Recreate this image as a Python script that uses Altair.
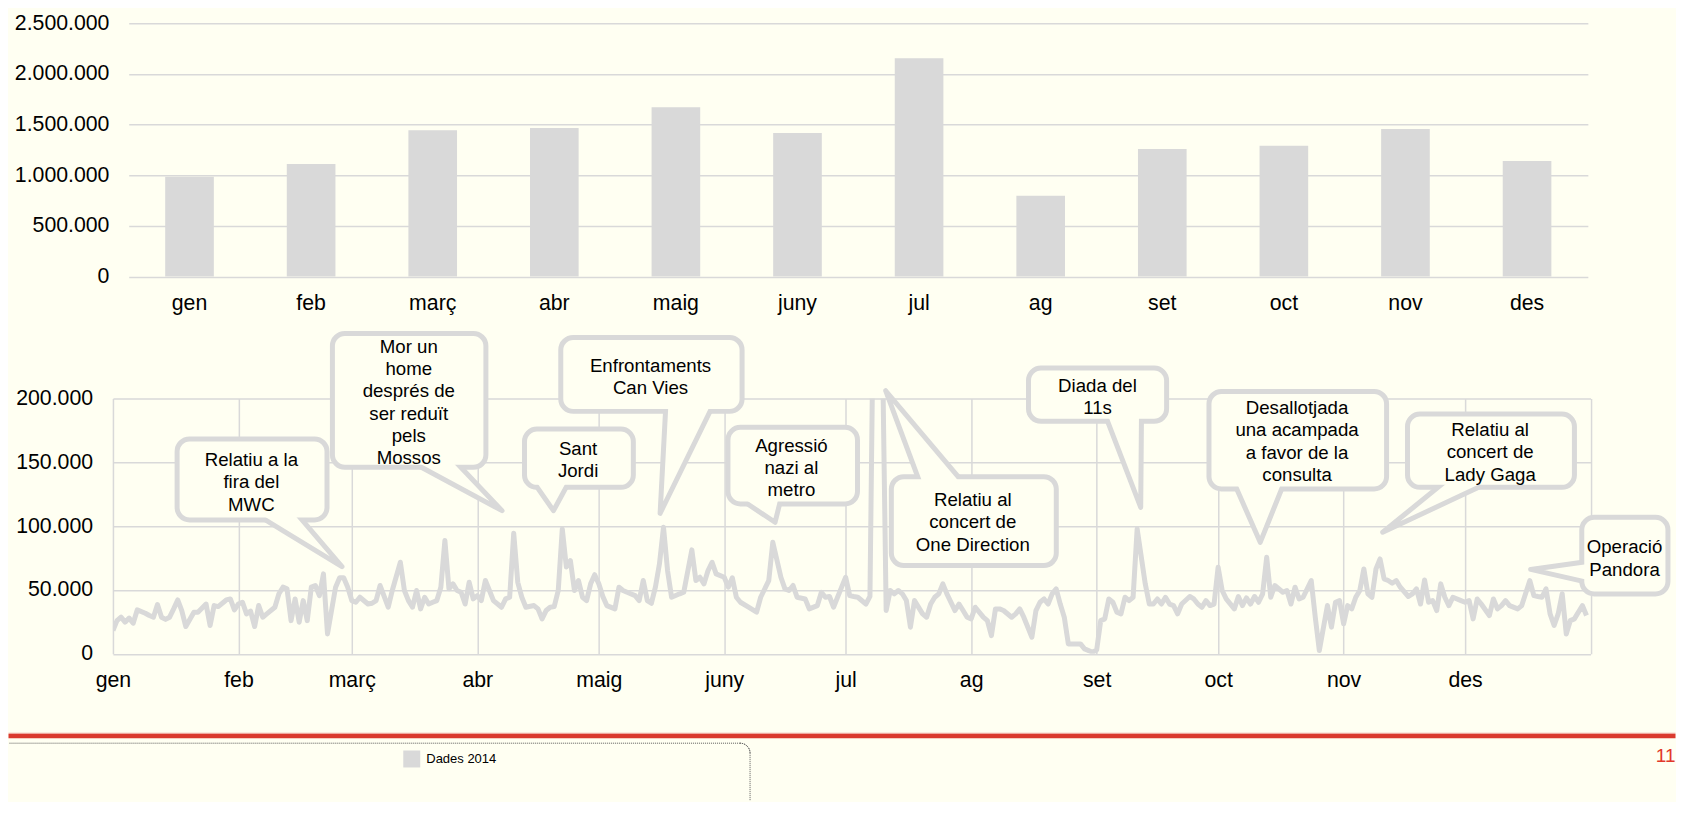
import math
import altair as alt
import pandas as pd

BG = "#FFFFF2"
GRIS = "#D9D9D9"
NEGRE = "#000000"
FONT = "Liberation Sans"

# ---------------- dades mensuals (gràfic de barres) ----------------
MESOS = ["gen", "feb", "març", "abr", "maig", "juny", "jul", "ag", "set", "oct", "nov", "des"]
VISITES_MES = [984000, 1110000, 1443000, 1465000, 1670000, 1416000,
               2154000, 797000, 1258000, 1290000, 1456000, 1140000]
MARQUES_Y_MES = [0, 500000, 1000000, 1500000, 2000000, 2500000]

# ---------------- dades diàries (gràfic de línia) ----------------
INICI_MES = [0, 31, 59, 90, 120, 151, 181, 212, 243, 273, 304, 334, 365]
MARQUES_Y_DIA = [0, 50000, 100000, 150000, 200000]
SERIE = "Dades 2014"

DIES = [
    0, 1, 2, 3, 4, 5, 6, 8, 9, 10, 11, 12, 13, 14, 15, 16, 17, 18, 20, 21, 23, 24, 25, 26, 28, 29, 30,
    31, 32, 33, 34, 35, 36, 37, 38, 40, 41, 42, 43, 44, 45, 46, 47, 48, 49, 50, 51, 52, 53, 55, 56, 57, 58,
    59, 60, 61, 63, 64, 65, 66, 68, 69, 71, 72, 73, 74, 75, 76, 77, 78, 79, 80, 81, 82, 83, 84, 85, 86, 87, 88, 89,
    90, 91, 92, 93, 94, 96, 97, 98, 99, 100, 101, 102, 104, 105, 106, 107, 108, 109, 110, 111, 112, 113, 114, 115, 116, 117, 118, 119,
    120, 121, 122, 124, 125, 126, 127, 129, 130, 131, 132, 133, 134, 135, 136, 137, 138, 140, 141, 143, 144, 145, 146, 147, 148, 149,
    151, 152, 153, 154, 155, 157, 159, 160, 162, 163, 165, 166, 167, 168, 169, 171, 172, 174, 175, 176, 177, 178, 180,
    181, 182, 183, 184, 186, 187, 188, 189, 190, 191, 192, 193, 194, 195, 196, 197, 198, 200, 201, 202, 203, 204, 205, 206, 208, 209, 210, 211,
    212, 213, 215, 216, 217, 218, 219, 220, 222, 223, 224, 225, 227, 228, 229, 230, 231, 232, 233, 234, 235, 236, 238, 239, 240, 242,
    243, 244, 245, 246, 247, 248, 249, 250, 251, 252, 253, 255, 256, 257, 258, 259, 260, 261, 262, 263, 264, 266, 267, 268, 269, 270, 271, 272,
    273, 274, 275, 277, 278, 279, 280, 281, 282, 283, 284, 285, 286, 287, 289, 290, 291, 292, 293, 294, 296, 297, 298, 300, 301, 302, 303,
    304, 305, 306, 307, 308, 309, 310, 311, 312, 313, 314, 315, 316, 317, 318, 320, 321, 322, 323, 324, 325, 326, 327, 328, 329, 330, 331, 333,
    334, 335, 336, 337, 338, 340, 341, 342, 343, 344, 345, 347, 348, 350, 351, 352, 353, 354, 355, 356, 357, 358, 359, 360, 361, 363, 364,
]
VISITES_DIA = [
    18300, 26000, 28700, 24800, 28000, 24000, 34400, 31800, 30000, 28700, 38600, 28700, 27000, 28700, 35200, 42200, 33900, 21400, 32600, 32600, 39000, 22200, 37800, 37000, 42200, 43000, 34400,
    39000, 40400, 31300, 33400, 21400, 37800, 28700, 31300, 36500, 47000, 52200, 50900, 26000, 43000, 24800, 41700, 26000, 52200, 53500, 45600, 62600, 15600, 52200, 59500, 59500, 52200,
    41700, 40400, 44300, 39000, 39600, 41700, 53500, 36500, 49600, 71700, 49600, 41700, 36500, 49600, 35200, 44300, 39000, 40400, 41700, 52200, 88700, 50900, 54800, 49600, 48200, 39000, 56000, 43000,
    45600, 41700, 57400, 49600, 41700, 36500, 43000, 44300, 94400, 56000, 44300, 36500, 37800, 35200, 27400, 33900, 36500, 37000, 49600, 97800, 68000, 73000, 49600, 57400, 44300, 41700, 54800, 62000,
    55000, 45000, 37800, 35200, 52200, 49600, 48200, 45600, 41700, 57400, 41700, 39600, 52200, 70400, 99100, 65200, 44300, 47000, 48200, 81400, 57400, 60000, 54800, 65200, 71700, 62600,
    60000, 52200, 59500, 44300, 40400, 36500, 32600, 44300, 57400, 87400, 60000, 50900, 49600, 53500, 44300, 43000, 35200, 37800, 48200, 44300, 44900, 36500, 52200,
    60000, 45600, 44900, 44300, 39000, 45000, 320000, 300000, 260000, 33900, 49600, 47000, 49600, 47000, 41700, 20900, 41700, 31300, 28700, 39000, 44300, 47000, 54800, 47000, 33900, 39000, 33900, 28700,
    27400, 36500, 28700, 26000, 14300, 35200, 35200, 33900, 28700, 31300, 35200, 28700, 13000, 33900, 40400, 43000, 39000, 47000, 50900, 39000, 28700, 7800, 7800, 7800, 3900, 1300,
    3000, 26000, 27400, 43000, 40400, 32600, 31300, 44300, 41700, 44300, 97800, 54800, 39000, 39000, 43000, 39000, 44300, 39000, 37800, 31300, 39000, 44900, 43000, 39000, 36500, 41700, 37800, 39000,
    67800, 49600, 43000, 35200, 44900, 37800, 43800, 39000, 44900, 40400, 47000, 75600, 44300, 53500, 48200, 49600, 39000, 52200, 43000, 44300, 57400, 28700, 2600, 37800, 20900, 40400, 41700,
    23500, 37800, 35200, 44300, 49600, 66500, 47000, 44300, 66500, 74300, 58700, 57400, 55300, 57400, 52200, 44900, 47000, 50900, 39000, 57900, 40400, 41700, 33900, 54800, 44300, 37800, 44300, 41700,
    40400, 41700, 27400, 43000, 39000, 30000, 43000, 35200, 37800, 41700, 37800, 35200, 37800, 57400, 45600, 44900, 44300, 50900, 31300, 22200, 31300, 47000, 15600, 26000, 27400, 37800, 30000,
]
assert len(DIES) == len(VISITES_DIA), (len(DIES), len(VISITES_DIA))

# ---------------- anotacions (en unitats de dia / visites) ----------------
TEXTOS = [
    "Relatiu a la\nfira del\nMWC",
    "Mor un\nhome\ndesprés de\nser reduït\npels\nMossos",
    "Sant\nJordi",
    "Enfrontaments\nCan Vies",
    "Agressió\nnazi al\nmetro",
    "Relatiu al\nconcert de\nOne Direction",
    "Diada del\n11s",
    "Desallotjada\nuna acampada\na favor de la\nconsulta",
    "Relatiu al\nconcert de\nLady Gaga",
    "Operació\nPandora",
]
CAIXA_DIA_INICI = [16.47, 54.83, 102.28, 111.24, 152.54, 192.9, 226.78, 271.36, 320.4, 363.45]
CAIXA_DIA_FI = [52.26, 91.51, 127.93, 154.79, 183.3, 232.41, 259.66, 314.0, 360.4, 383.5]
CAIXA_VAL_DALT = [166300, 248900, 174100, 245800, 175400, 136800, 221800, 203500, 185800, 104900]
CAIXA_VAL_BAIX = [106800, 148000, 132300, 191800, 119300, 71100, 184000, 131100, 132300, 48900]
# posició de la primera línia de cada text
TEXT_DIA = [34.2, 73.07, 114.9, 132.8, 167.6, 212.4, 243.2, 292.5, 340.2, 373.4]
TEXT_VAL = [151800, 240500, 160400, 225600, 163000, 120500, 210000, 192500, 175300, 83400]
PUNTA_DIA = [56.58, 96.11, 108.82, 135.16, 163.55, 190.88, 253.88, 283.4, 313.65, 350.2]
PUNTA_VAL = [68300, 112100, 112100, 110000, 103000, 206000, 114700, 87300, 95200, 66100]
BASE1_DIA = [37.65, 76.26, 104.8, 136.5, 156.76, 198.6, 245.8, 277.6, 326.9, 362.83]
BASE1_VAL = [104900, 146000, 130400, 189800, 117400, 140300, 181200, 129100, 129300, 71700]
BASE2_DIA = [46.71, 85.96, 111.95, 147.5, 164.69, 208.8, 254.06, 288.7, 336.6, 362.83]
BASE2_VAL = [104900, 146000, 130400, 189800, 117400, 138700, 182600, 129100, 129300, 57000]

# ---------------- taules ----------------
df_mes = pd.DataFrame({"mes": MESOS, "visites": VISITES_MES})
df_dia = pd.DataFrame({"dia": DIES, "visites": VISITES_DIA, "serie": SERIE})
df_caixes = pd.DataFrame({
    "x1": CAIXA_DIA_INICI, "x2": CAIXA_DIA_FI,
    "y1": CAIXA_VAL_DALT, "y2": CAIXA_VAL_BAIX,
    "tx": TEXT_DIA, "ty": TEXT_VAL, "text": TEXTOS,
})

# cues de les bafarades: triangle punta-base, allargat cap a l'interior de la caixa
K = 1.5
files = []
for i in range(len(TEXTOS)):
    tx, ty = PUNTA_DIA[i], PUNTA_VAL[i]
    verts = [(tx, ty)]
    for bx, by in ((BASE1_DIA[i], BASE1_VAL[i]), (BASE2_DIA[i], BASE2_VAL[i])):
        verts.append((tx + (bx - tx) * K, ty + (by - ty) * K))
    verts.sort()
    (x0, y0), (x1, y1), (x2, y2) = verts
    if abs(x2 - x1) < 1e-9:
        files += [dict(c=i, x=x0, y=y0, y2=y0), dict(c=i, x=x1, y=y1, y2=y2)]
    elif abs(x1 - x0) < 1e-9:
        files += [dict(c=i, x=x0, y=y0, y2=y1), dict(c=i, x=x2, y=y2, y2=y2)]
    else:
        ym = y0 + (y2 - y0) * (x1 - x0) / (x2 - x0)
        files += [dict(c=i, x=x0, y=y0, y2=y0), dict(c=i, x=x1, y=y1, y2=ym),
                  dict(c=i, x=x2, y=y2, y2=y2)]
df_cues = pd.DataFrame(files)

LABEL_MILERS = "replace(replace(format(datum.value, ','), ',', '.'), ',', '.')"
LABEL_MES = ("[" + ",".join("'" + m + "'" for m in MESOS) + ",''][indexof(["
             + ",".join(str(d) for d in INICI_MES) + "], datum.value)]")

# ---------------- gràfic superior ----------------
Y_MES = alt.Scale(domain=[0, 2500000], nice=False, zero=True)

eix_mes = alt.Chart(df_mes).mark_point(opacity=0).encode(
    y=alt.Y("visites:Q", scale=Y_MES,
            axis=alt.Axis(values=MARQUES_Y_MES, labelExpr=LABEL_MILERS, grid=False,
                          labelPadding=4, title=None))
).properties(width=1, height=253.5)

barres = alt.Chart(df_mes).mark_bar(color=GRIS).encode(
    x=alt.X("mes:N", sort=MESOS, scale=alt.Scale(paddingInner=0.6, paddingOuter=0.3),
            axis=alt.Axis(labelAngle=0, labelPadding=15.7, title=None, grid=False)),
    y=alt.Y("visites:Q", scale=Y_MES,
            axis=alt.Axis(values=MARQUES_Y_MES, labels=False, grid=True, title=None,
                          minExtent=0, maxExtent=0)),
).properties(width=1460, height=253.5)

fila_superior = alt.hconcat(eix_mes, barres, spacing=11.8)

# ---------------- gràfic inferior ----------------
XS = alt.Scale(domain=[0, 365], nice=False, zero=False)
YS = alt.Scale(domain=[0, 200000], nice=False, zero=False)
XAX = alt.Axis(values=INICI_MES, labelExpr=LABEL_MES, grid=True, labelPadding=15.7,
               labelFlush=False, labelAngle=0, title=None)
YAX = alt.Axis(values=MARQUES_Y_DIA, labelExpr=LABEL_MILERS, grid=True,
               labelPadding=20.4, title=None)

linia = alt.Chart(df_dia).mark_line(strokeWidth=5, strokeJoin="round", clip=True).encode(
    x=alt.X("dia:Q", scale=XS, axis=XAX),
    y=alt.Y("visites:Q", scale=YS, axis=YAX),
    color=alt.Color("serie:N", scale=alt.Scale(range=[GRIS]),
                    legend=alt.Legend(orient="none", legendX=290.5, legendY=352.3, title=None,
                                      symbolType="square", symbolSize=289,
                                      symbolFillColor=GRIS, symbolStrokeWidth=0,
                                      labelFont=FONT, labelFontSize=13,
                                      labelColor=NEGRE, labelOffset=6, padding=0)),
)

enc_caixa = dict(
    x=alt.X("x1:Q", scale=XS, axis=XAX), x2="x2:Q",
    y=alt.Y("y1:Q", scale=YS, axis=YAX), y2="y2:Q",
)
vora = alt.Chart(df_caixes).mark_rect(fill=BG, stroke=GRIS, strokeWidth=10,
                                      cornerRadius=10).encode(**enc_caixa)
cues = alt.Chart(df_cues).mark_area(fill=BG, stroke=GRIS, strokeWidth=5, strokeJoin="round",
                                    interpolate="linear").encode(
    x=alt.X("x:Q", scale=XS, axis=XAX),
    y=alt.Y("y:Q", scale=YS, axis=YAX), y2="y2:Q",
    detail="c:N",
)
farciment = alt.Chart(df_caixes).mark_rect(fill=BG, cornerRadius=10).encode(**enc_caixa)
textos = alt.Chart(df_caixes).mark_text(
    lineBreak="\n", lineHeight=22.3, fontSize=18.67, font=FONT, color=NEGRE,
    align="center", baseline="middle",
).encode(
    x=alt.X("tx:Q", scale=XS, axis=XAX),
    y=alt.Y("ty:Q", scale=YS, axis=YAX),
    text="text:N",
)

# peu de diapositiva
un = pd.DataFrame({"k": [0]})
franja_clara = alt.Chart(un).mark_rect(color="#EFA79E").encode(
    x=alt.value(-104.5), x2=alt.value(1563.5), y=alt.value(334.6), y2=alt.value(335.8))
franja = alt.Chart(un).mark_rect(color="#DA3A2E").encode(
    x=alt.value(-104.5), x2=alt.value(1563.5), y=alt.value(335.8), y2=alt.value(340.0))
vora_sup = alt.Chart(un).mark_rule(color="#595959", strokeWidth=1, strokeDash=[1, 1]).encode(
    x=alt.value(-103.5), x2=alt.value(627.5), y=alt.value(345.0))
vora_dreta = alt.Chart(un).mark_rule(color="#595959", strokeWidth=1, strokeDash=[1, 1]).encode(
    x=alt.value(637.5), y=alt.value(355.0), y2=alt.value(403.0))
cantonada = alt.Chart(un).mark_arc(innerRadius=10, outerRadius=10, theta=0, theta2=math.pi / 2,
                                   fillOpacity=0, stroke="#595959", strokeWidth=1,
                                   strokeDash=[1, 1]).encode(
    x=alt.value(627.5), y=alt.value(355.0))
pagina = alt.Chart(un).mark_text(text="11", align="right", baseline="middle", fontSize=19,
                                 font=FONT, color="#E2382B").encode(
    x=alt.value(1563.5), y=alt.value(358.0))

inferior = alt.layer(
    linia, vora, cues, farciment, textos,
    franja_clara, franja, vora_sup, vora_dreta, cantonada, pagina,
).properties(width=1478.5, height=255.6)

chart = alt.vconcat(fila_superior, inferior, spacing=16.4).resolve_legend(
    color="independent"
).properties(
    padding={"left": 0, "top": 4, "right": 0, "bottom": 0},
    background=BG,
).configure_view(
    strokeWidth=0
).configure_axis(
    labelFont=FONT, labelFontSize=21.3, labelColor=NEGRE,
    gridColor=GRIS, gridWidth=1.5, domain=False, ticks=False, labelOverlap=False,
)

chart.save("out.html", embed_options={"renderer": "svg", "actions": False})
